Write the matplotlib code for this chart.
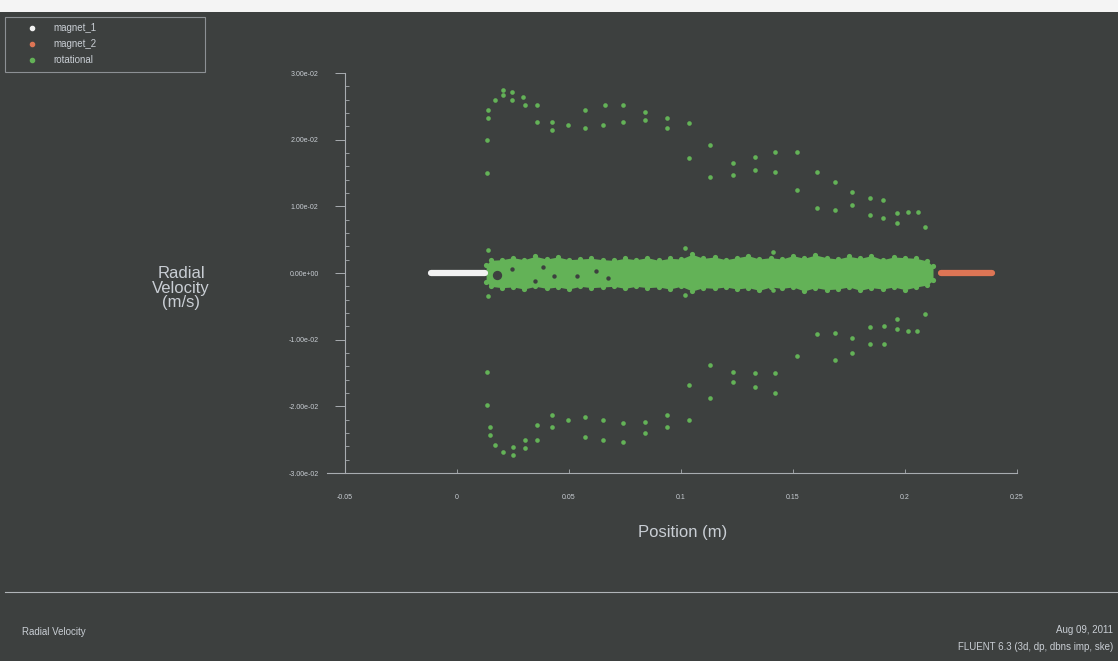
import matplotlib
matplotlib.use('Agg')
import matplotlib.pyplot as plt
from matplotlib.lines import Line2D
from matplotlib.patches import Rectangle
from matplotlib.ticker import AutoMinorLocator, FixedLocator

# ---- data ----
magnet1_x=[-0.0115,0.0125]
magnet1_y=[0.0,0.0]
magnet2_x=[0.2160,0.2390]
magnet2_y=[0.0,0.0]

# scattered rotational points outside the dense band
rot_x=[0.0205,0.0246,0.0170,0.0205,0.0246,0.0295,0.0304,0.0357,0.0138,0.0138,
       0.0571,0.0661,0.0741,0.0839,0.0357,0.0424,0.0424,0.0496,0.0571,0.0652,
       0.0741,0.0839,0.0134,0.0134,0.0938,0.0938,0.1036,0.1129,0.1036,0.1129,
       0.1232,0.1232,0.1330,0.1330,0.1420,0.1420,0.1518,0.1607,0.1518,0.1688,
       0.1763,0.1607,0.1688,0.1763,0.1844,0.1902,0.1844,0.1902,0.1964,0.2013,
       0.2058,0.1964,0.2089,
       0.0134,0.0134,0.0147,0.0147,0.0170,0.0205,0.0250,0.0250,0.0304,0.0304,
       0.0357,0.0357,0.0424,0.0424,0.0496,0.0571,0.0571,0.0652,0.0652,0.0741,
       0.0741,0.0839,0.0839,0.0938,0.0938,0.1036,0.1036,0.1129,0.1129,0.1232,
       0.1232,0.1330,0.1330,0.1420,0.1420,0.1518,0.1607,0.1688,0.1688,0.1763,
       0.1763,0.1844,0.1844,0.1906,0.1906,0.1964,0.1964,0.2013,0.2054,0.2089,
       0.0138,0.0138,0.1018,0.1018,0.1410,0.1410]
rot_y=[0.0274,0.0271,0.0259,0.0267,0.0259,0.0264,0.0252,0.0252,0.0244,0.0232,
       0.0244,0.0252,0.0252,0.0241,0.0226,0.0226,0.0214,0.0222,0.0217,0.0222,
       0.0226,0.0229,0.0199,0.0150,0.0232,0.0217,0.0225,0.0192,0.0172,0.0144,
       0.0165,0.0147,0.0174,0.0154,0.0181,0.0151,0.0181,0.0151,0.0124,0.0136,
       0.0121,0.0097,0.0094,0.0102,0.0112,0.0109,0.0087,0.0082,0.0090,0.0091,
       0.0091,0.0075,0.0069,
       -0.0148,-0.0198,-0.0231,-0.0243,-0.0258,-0.0268,-0.0261,-0.0273,-0.0250,-0.0262,
       -0.0228,-0.0250,-0.0213,-0.0231,-0.0220,-0.0216,-0.0246,-0.0220,-0.0250,-0.0225,
       -0.0253,-0.0223,-0.0240,-0.0213,-0.0231,-0.0168,-0.0220,-0.0138,-0.0187,-0.0148,
       -0.0163,-0.0150,-0.0171,-0.0150,-0.0180,-0.0124,-0.0091,-0.0090,-0.0130,-0.0097,
       -0.0120,-0.0081,-0.0106,-0.0079,-0.0106,-0.0069,-0.0084,-0.0087,-0.0087,-0.0061,
       0.0034,-0.0034,0.0037,-0.0033,0.0031,-0.0025]

# envelope of the dense rotational band around zero
band_x=[0.0130,0.0150,0.0200,0.0250,0.0300,0.0350,0.0400,0.0450,0.0500,0.0550,
        0.0600,0.0650,0.0700,0.0750,0.0800,0.0850,0.0900,0.0950,0.1000,0.1050,
        0.1100,0.1150,0.1200,0.1250,0.1300,0.1350,0.1400,0.1450,0.1500,0.1550,
        0.1600,0.1650,0.1700,0.1750,0.1800,0.1850,0.1900,0.1950,0.2000,0.2050,
        0.2100,0.2125]
band_top=[0.0012,0.0019,0.0020,0.0023,0.0020,0.0025,0.0021,0.0024,0.0020,0.0021,
          0.0022,0.0020,0.0019,0.0022,0.0020,0.0023,0.0019,0.0022,0.0021,0.0028,
          0.0022,0.0024,0.0020,0.0023,0.0026,0.0021,0.0023,0.0021,0.0026,0.0022,
          0.0027,0.0023,0.0021,0.0025,0.0022,0.0026,0.0020,0.0024,0.0023,0.0022,
          0.0018,0.0010]
band_bot=[-0.0013,-0.0020,-0.0022,-0.0021,-0.0024,-0.0020,-0.0023,-0.0021,-0.0024,-0.0020,
          -0.0022,-0.0021,-0.0020,-0.0023,-0.0020,-0.0022,-0.0021,-0.0024,-0.0020,-0.0027,
          -0.0022,-0.0023,-0.0021,-0.0024,-0.0022,-0.0026,-0.0021,-0.0023,-0.0021,-0.0027,
          -0.0022,-0.0025,-0.0024,-0.0021,-0.0026,-0.0022,-0.0024,-0.0021,-0.0025,-0.0021,
          -0.0018,-0.0011]
# dark gaps inside the band (left part)
gap_x=[0.0179,0.0246,0.0384,0.0433,0.0536,0.0621,0.0674,0.0348]
gap_y=[-0.0003,0.0006,0.0009,-0.0005,-0.0005,0.0003,-0.0007,-0.0012]

yticks=[-0.03,-0.02,-0.01,0.0,0.01,0.02,0.03]
ytick_labels=['-3.00e-02','-2.00e-02','-1.00e-02','0.00e+00','1.00e-02','2.00e-02','3.00e-02']
xticks=[-0.05,0,0.05,0.1,0.15,0.2,0.25]
xtick_labels=['-0.05','0','0.05','0.1','0.15','0.2','0.25']
legend_names=['magnet_1','magnet_2','rotational']

# ---- style ----
bg='#3d403f'
txt='#c9ced4'
green='#63b257'
white='#f2f2f2'
orange='#dd7555'
plt.rcParams['font.family']=['Liberation Sans Narrow','Liberation Sans','DejaVu Sans']

W,H=1118,661
fig=plt.figure(figsize=(W/100,H/100),dpi=100,facecolor=bg)

def fx(px): return px/W
def fy(py): return 1-py/H

# top light strip
fig.patches.append(Rectangle((0,fy(12)),1,1-fy(12),transform=fig.transFigure,
                             facecolor='#f4f4f4',edgecolor='none',zorder=0))

ax=fig.add_axes([fx(345),fy(473),fx(1017)-fx(345),fy(73)-fy(473)])
ax.set_facecolor(bg)
ax.set_xlim(-0.05,0.25)
ax.set_ylim(-0.03,0.03)

# band
ax.fill_between(band_x,band_bot,band_top,color=green,lw=0,zorder=2)
ax.scatter(band_x,band_top,s=14,color=green,lw=0,zorder=2)
ax.scatter(band_x,band_bot,s=14,color=green,lw=0,zorder=2)
ax.scatter(gap_x,gap_y,s=10,color=bg,lw=0,zorder=3)
ax.scatter(gap_x[:1],gap_y[:1],s=45,color=bg,lw=0,zorder=3)

ax.scatter(rot_x,rot_y,s=11,color=green,lw=0,zorder=3)
ax.plot(magnet1_x,magnet1_y,color=white,lw=4.5,solid_capstyle='round',zorder=3)
ax.plot(magnet2_x,magnet2_y,color=orange,lw=4.5,solid_capstyle='round',zorder=3)

for s in ['top','right']:
    ax.spines[s].set_visible(False)
ax.spines['left'].set_color('#a8acb0')
ax.spines['bottom'].set_color('#a8acb0')
ax.spines['left'].set_linewidth(0.8)
ax.spines['bottom'].set_linewidth(0.8)
ax.spines['bottom'].set_bounds(-0.058,0.25)

ax.yaxis.set_major_locator(FixedLocator(yticks))
ax.set_yticklabels(ytick_labels)
ax.yaxis.set_minor_locator(AutoMinorLocator(5))
ax.xaxis.set_major_locator(FixedLocator(xticks))
ax.set_xticklabels(xtick_labels)
ax.tick_params(axis='y',which='major',direction='out',length=7,width=0.7,color='#a8acb0',
               labelsize=5,labelcolor=txt,pad=12)
ax.tick_params(axis='y',which='minor',direction='in',length=3,width=0.6,color='#a8acb0')
ax.tick_params(axis='x',which='major',direction='in',length=3,width=0.6,color='#a8acb0',
               labelsize=5,labelcolor=txt,pad=15)

fig.text(fx(683),fy(533),'Position (m)',color=txt,fontsize=12,ha='center',va='center')
fig.text(fx(181),fy(288),'Radial\nVelocity\n(m/s)',color=txt,fontsize=12,ha='center',va='center',
         linespacing=0.95)

# legend box
fig.patches.append(Rectangle((fx(5),fy(72)),fx(205)-fx(5),fy(17)-fy(72),transform=fig.transFigure,
                             facecolor='none',edgecolor='#8c9094',lw=0.8))
leg_colors=[white,orange,green]
for i,(name,c) in enumerate(zip(legend_names,leg_colors)):
    yy=fy(28+16*i)
    fig.add_artist(Line2D([fx(32)],[yy],marker='o',ms=3,color=c,lw=0,transform=fig.transFigure))
    fig.text(fx(53),yy,name,color=txt,fontsize=7,ha='left',va='center')

# footer
fig.add_artist(Line2D([fx(5),1],[fy(592),fy(592)],color='#b0b4b8',lw=0.8,transform=fig.transFigure))
fig.text(fx(22),fy(632),'Radial Velocity',color=txt,fontsize=7,ha='left',va='center')
fig.text(fx(1113),fy(630),'Aug 09, 2011',color=txt,fontsize=7,ha='right',va='center')
fig.text(fx(1113),fy(647),'FLUENT 6.3 (3d, dp, dbns imp, ske)',color=txt,fontsize=7,ha='right',va='center')

fig.savefig('out.png',dpi=100,facecolor=bg)
